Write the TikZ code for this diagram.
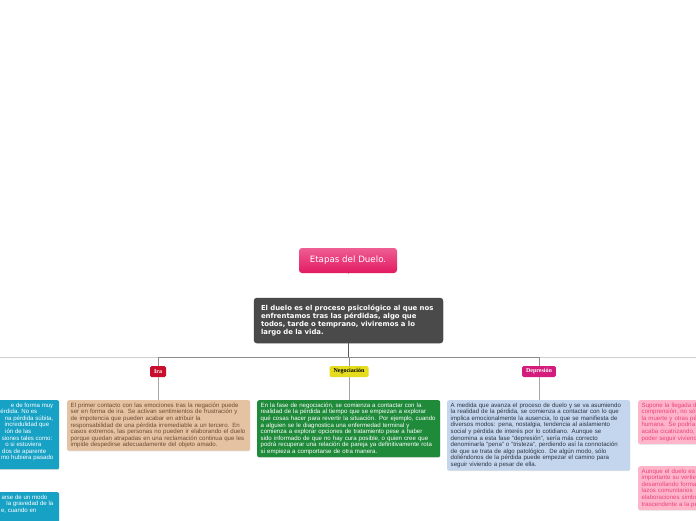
\documentclass[tikz,border=0pt]{standalone}
\usepackage{fontspec}
\setmainfont{Liberation Sans}
\newfontfamily\dvsans{DejaVu Sans}
\newfontfamily\lserif{Liberation Serif}
\usetikzlibrary{shadows}
\definecolor{titleTop}{HTML}{EF5E92}
\definecolor{titleBot}{HTML}{E21A62}
\definecolor{centralFill}{HTML}{4A4A4A}
\definecolor{iraRed}{HTML}{C8102E}
\definecolor{negYellow}{HTML}{E4DC1C}
\definecolor{depMag}{HTML}{D41C7C}
\definecolor{iraFill}{HTML}{E5C2A2}
\definecolor{iraText}{HTML}{6B4C32}
\definecolor{negFill}{HTML}{1F8A3A}
\definecolor{depFill}{HTML}{C3D6EE}
\definecolor{depText}{HTML}{2E3440}
\definecolor{leftFill}{HTML}{17A1C5}
\definecolor{pinkFill}{HTML}{FFB5C9}
\definecolor{pinkText}{HTML}{E8437C}
\definecolor{lineGray}{HTML}{A6A6A6}
\definecolor{lineDark}{HTML}{8C8C8C}
\definecolor{lineLight}{HTML}{CFCFCF}
\newcommand\boxfont{\fontsize{6.1}{6.6}\selectfont}
\newcommand\lw[1]{\mbox{#1}}
\begin{document}
\begin{tikzpicture}[x=1pt,y=-1pt,
  stagebox/.style={rounded corners=2pt, inner xsep=3.5pt, inner ysep=2.5pt,
    text width=176pt, align=left, anchor=north west, font=\boxfont,
    drop shadow={opacity=.25, shadow xshift=0pt, shadow yshift=-.8pt}},
  frag/.style={anchor=north east, align=right, inner sep=0pt, font=\boxfont},
  stagelabel/.style={rounded corners=1.5pt, inner xsep=4pt, inner ysep=0pt,
    minimum height=11pt, font=\lserif\bfseries\fontsize{6}{7}\selectfont},
  conn/.style={draw=lineGray, line width=1pt},
  busdark/.style={draw=lineDark, line width=1pt},
  buslight/.style={draw=lineLight, line width=1pt}]
\useasboundingbox (0,0) rectangle (696,520);
\fill[white] (0,0) rectangle (696,520);
\clip (0,0) rectangle (696,520);

% title and central idea
\node[rounded corners=3pt, top color=titleTop, bottom color=titleBot,
  minimum width=98pt, minimum height=25pt, inner sep=0pt, text=white,
  font=\dvsans\fontsize{8.7}{10}\selectfont] (title) at (348,260.5) {Etapas del Duelo.};
\node[rounded corners=3pt, fill=centralFill, draw=centralFill!80!black, line width=.4pt,
  text width=175pt, inner xsep=7pt, minimum height=45pt, align=left, text=white,
  font=\dvsans\bfseries\fontsize{6.9}{8.3}\selectfont,
  drop shadow={opacity=.25, shadow xshift=0pt, shadow yshift=-.8pt}] (central) at (348.5,320.5)
  {\lw{El duelo es el proceso psicológico al que nos}\\
   \lw{enfrentamos tras las pérdidas, algo que}\\
   \lw{todos, tarde o temprano, viviremos a lo}\\
   \lw{largo de la vida.}};

% stage labels
\node[stagelabel, fill=iraRed, text=white] (ira) at (158,371.5) {Ira};
\node[stagelabel, fill=negYellow, text=black] (neg) at (349,371.5) {Negociación};
\node[stagelabel, fill=depMag, text=white] (dep) at (539,371.5) {Depresión};
\coordinate (offL) at (-31,366);
\coordinate (offR) at (728,366);

% stage boxes
\node[stagebox, fill=iraFill, text=iraText] (irabox) at (67,400)
  {\lw{El primer contacto con las emociones tras la negación puede}\\
   \lw{ser en forma de ira. Se activan sentimientos de frustración y}\\
   \lw{de impotencia que pueden acabar en atribuir la}\\
   \lw{responsabilidad de una pérdida irremediable a un tercero. En}\\
   \lw{casos extremos, las personas no pueden ir elaborando el duelo}\\
   \lw{porque quedan atrapadas en una reclamación continua que les}\\
   \lw{impide despedirse adecuadamente del objeto amado.}};
\node[stagebox, fill=negFill, text=white] (negbox) at (257,400)
  {\lw{En la fase de negociación, se comienza a contactar con la}\\
   \lw{realidad de la pérdida al tiempo que se empiezan a explorar}\\
   \lw{qué cosas hacer para revertir la situación. Por ejemplo, cuando}\\
   \lw{a alguien se le diagnostica una enfermedad terminal y}\\
   \lw{comienza a explorar opciones de tratamiento pese a haber}\\
   \lw{sido informado de que no hay cura posible, o quien cree que}\\
   \lw{podrá recuperar una relación de pareja ya definitivamente rota}\\
   \lw{si empieza a comportarse de otra manera.}};
\node[stagebox, fill=depFill, text=depText] (depbox) at (447,400)
  {\lw{A medida que avanza el proceso de duelo y se va asumiendo}\\
   \lw{la realidad de la pérdida, se comienza a contactar con lo que}\\
   \lw{implica emocionalmente la ausencia, lo que se manifiesta de}\\
   \lw{diversos modos: pena, nostalgia, tendencia al aislamiento}\\
   \lw{social y pérdida de interés por lo cotidiano. Aunque se}\\
   \lw{denomina a esta fase "depresión", sería más correcto}\\
   \lw{denominarla "pena" o "tristeza", perdiendo así la connotación}\\
   \lw{de que se trata de algo patológico. De algún modo, sólo}\\
   \lw{doliéndonos de la pérdida puede empezar el camino para}\\
   \lw{seguir viviendo a pesar de ella.}};

% partially visible boxes, left
\node[stagebox, fill=leftFill, minimum height=69pt] (leftbox1) at (-124,400) {};
\node[frag, text=white] (leftfrag1) at (53.5,402.5)
  {e de forma muy\\
   érdida. No es\kern16pt\\
   na pérdida súbita,\\
   incredulidad que\kern4pt\\
   ión de las\kern22pt\\
   siones tales como:\kern1pt\\
   o si estuviera\kern12pt\\
   dos de aparente\kern7pt\\
   mo hubiera pasado};
\node[stagebox, fill=leftFill, minimum height=44pt] (leftbox2) at (-124,492) {};
\node[frag, text=white] (leftfrag2) at (53.5,494.5)
  {arse de un modo\kern6pt\\
   la gravedad de la\\
   e, cuando en\kern17pt};

% partially visible boxes, right
\node[stagebox, fill=pinkFill, text=pinkText] (rightbox1) at (638,400)
  {\lw{Supone la llegada de}\\
   \lw{comprensión, no sólo}\\
   \lw{la muerte y otras pérdidas}\\
   \lw{humana. Se podría}\\
   \lw{acaba cicatrizando,}\\
   \lw{poder seguir viviendo}};
\node[stagebox, fill=pinkFill, text=pinkText] (rightbox2) at (638,466)
  {\lw{Aunque el duelo es}\\
   \lw{importante su vertiente}\\
   \lw{desarrollando formas}\\
   \lw{lazos comunitarios}\\
   \lw{elaboraciones simbólicas}\\
   \lw{trascendente a la pérdida}};

% connectors
\draw[conn] (title.south) -- (title.south -| central.north);
\draw[draw=centralFill!90, line width=1pt] (central.south) -- ++(0,14) coordinate (hub);
\draw[buslight] (hub) -| (offL);
\draw[buslight] (hub) -| (offR);
\draw[busdark] (hub) -| (ira.north);
\draw[busdark] (hub) -| (dep.north);
\draw[busdark] (hub) -| (neg.north);
\draw[conn] (ira.south) -- (ira.south |- irabox.north);
\draw[conn] (neg.south) -- (neg.south |- negbox.north);
\draw[conn] (dep.south) -- (dep.south |- depbox.north);
\end{tikzpicture}
\end{document}
